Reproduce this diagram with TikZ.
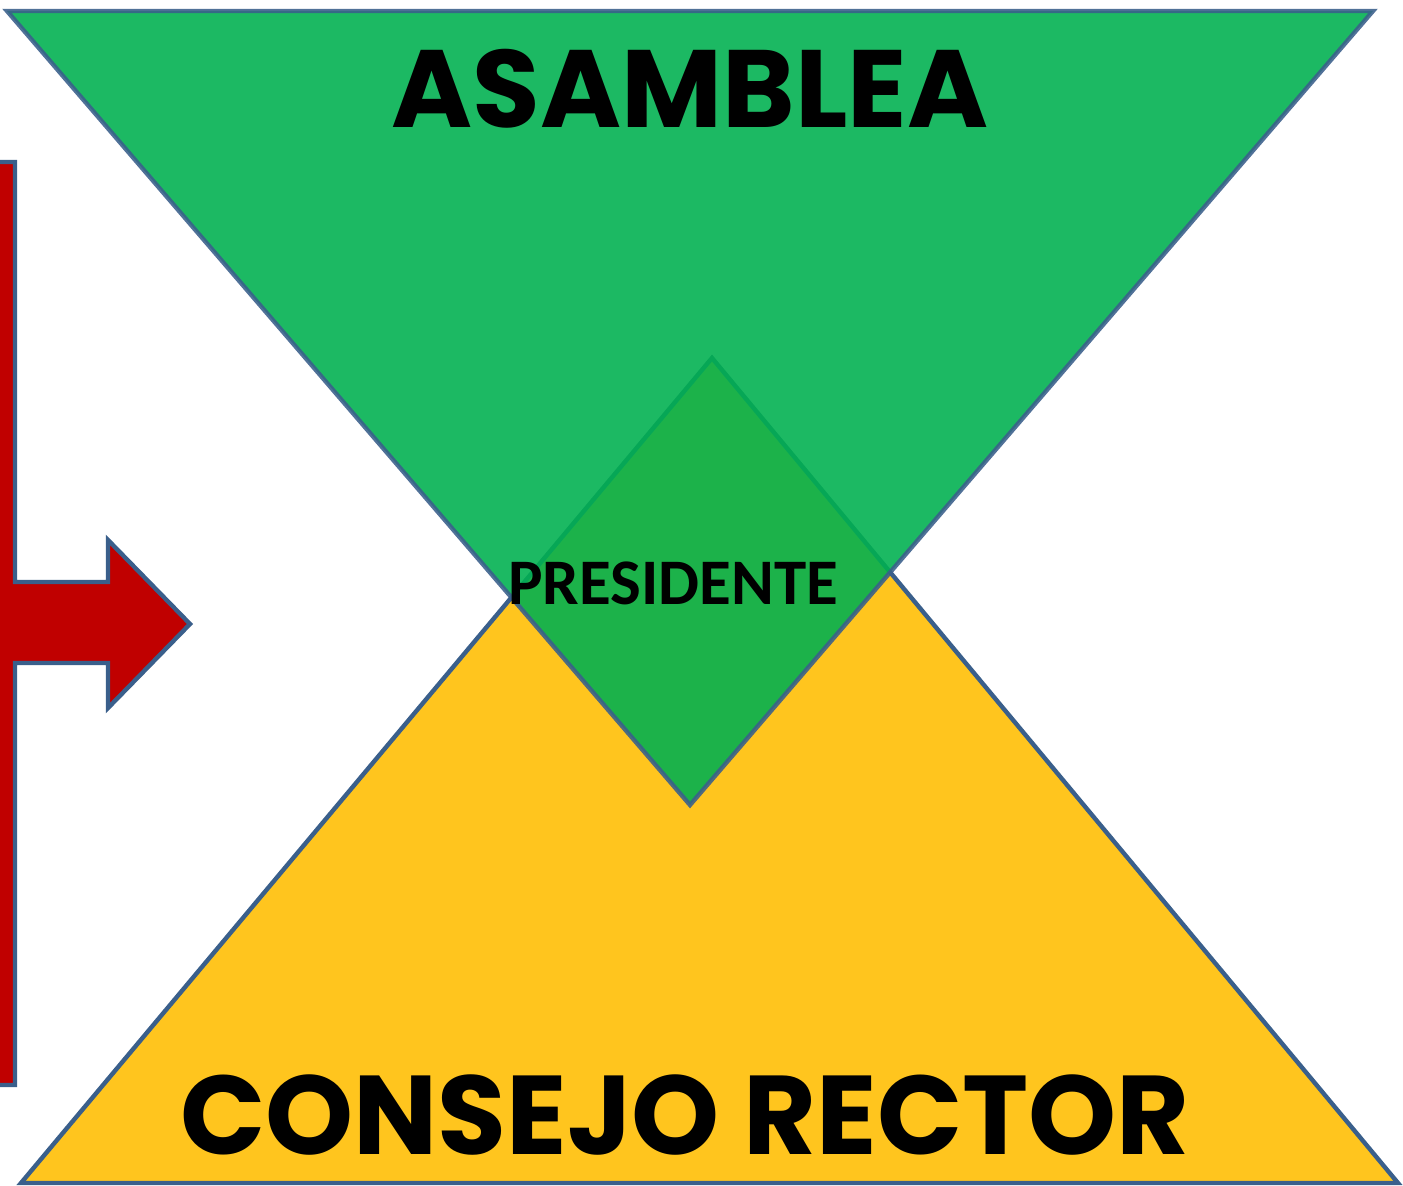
\documentclass[tikz,border=0pt]{standalone}
\usepackage{fontspec}
\setmainfont{Poppins}
\newfontfamily\presfont{Carlito}
\usetikzlibrary{positioning}
\definecolor{asamgreen}{HTML}{00B050}
\definecolor{consyellow}{HTML}{FFC51E}
\definecolor{edgeblue}{HTML}{3A5F8B}
\definecolor{arrowred}{HTML}{C00000}

\begin{document}
\begin{tikzpicture}[x=0.5pt, y=-0.5pt,
        shapeedge/.style={
            draw=edgeblue,
            line width=2.2pt,
            line join=miter},
        title/.style={
            font=\bfseries\fontsize{55}{55}\selectfont,
            anchor=base,
            text depth=0pt,
            inner sep=0pt}]
    \useasboundingbox (0,0) rectangle (1403,1186);
    \clip (0,0) rectangle (1403,1186);
    % red arrow on the left
    \draw[shapeedge, fill=arrowred] (-20,162) -- (15,162) -- (15,582) -- (108,582) -- (108,540)
        -- (190,624) -- (108,708) -- (108,663) -- (15,663) -- (15,1085) -- (-20,1085) -- cycle;
    % consejo rector
    \draw[shapeedge, fill=consyellow] (21,1183) -- (1398,1183) -- (712,358) -- cycle;
    % asamblea
    \draw[shapeedge, fill=asamgreen, opacity=0.89] (7,11) -- (1373,11) -- (690,805) -- cycle;
    \node[title] (asamblea) at (690,128) {ASAMBLEA};
    \node[title, font=\bfseries\fontsize{56}{56}\selectfont] (consejo) at (685,1154) {CONSEJO RECTOR};
    \node[font=\presfont\bfseries\fontsize{32.5}{33}\selectfont, anchor=base, inner sep=0pt] (presidente) at (673,605) {PRESIDENTE};
\end{tikzpicture}
\end{document}
